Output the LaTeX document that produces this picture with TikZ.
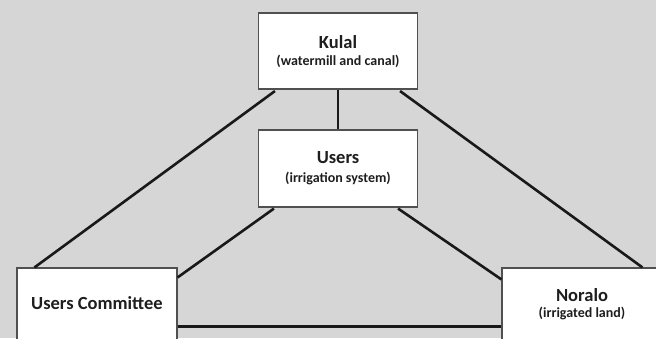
\documentclass[tikz,border=0pt]{standalone}
\usepackage{fontspec}
\setmainfont{Carlito}
\usetikzlibrary{calc}
\definecolor{bggray}{RGB}{214,214,214}
\definecolor{boxline}{RGB}{80,80,80}
\definecolor{linkcol}{RGB}{25,25,25}
\definecolor{textcol}{RGB}{30,30,30}
\begin{document}
\begin{tikzpicture}[x=1pt,y=-1pt,
  box/.style={draw=boxline,line width=1.1pt,fill=white,inner sep=0pt},
  link/.style={line width=2.6pt,draw=linkcol},
  big/.style={font=\bfseries\fontsize{18.5}{20}\selectfont,text=textcol},
  small/.style={font=\bfseries\fontsize{14}{16}\selectfont,text=textcol}]
\useasboundingbox (0,0) rectangle (656,338);
\clip (0,0) rectangle (656,338);
\fill[bggray] (0,0) rectangle (656,338);
% boxes
\node[box,minimum width=159pt,minimum height=76pt] (kulal) at (338,51) {};
\node[box,minimum width=159pt,minimum height=77pt] (users) at (338,168.5) {};
\node[box,minimum width=160pt,minimum height=100pt] (uc) at (97,318) {};
\node[box,minimum width=160pt,minimum height=100pt] (noralo) at (582,318) {};
% texts
\node[big] (t1) at (338,42) {Kulal};
\node[small] (t2) at (338,61) {(watermill and canal)};
\node[big] (t3) at (338,158) {Users};
\node[small] (t4) at (338,178) {(irrigation system)};
\node[big] (t5) at (97,303) {Users Committee};
\node[big] (t6) at (582,295) {Noralo};
\node[small] (t7) at (582,313) {(irrigated land)};
% connectors
\draw[link] (kulal.south) -- (users.north);
\draw[link] ($(kulal.south west)+(17,1.5)$) -- ($(uc.north west)+(18,0)$);
\draw[link] ($(kulal.south east)+(-18,1.5)$) -- ($(noralo.north west)+(141,0)$);
\draw[link] ($(users.south west)+(16,1)$) -- ($(uc.north east)+(0,10)$);
\draw[link] ($(users.south east)+(-20,1)$) -- ($(noralo.north west)+(0,12)$);
\draw[link] ($(uc.north east)+(0,59)$) -- ($(noralo.north west)+(0,59)$);
\end{tikzpicture}
\end{document}
